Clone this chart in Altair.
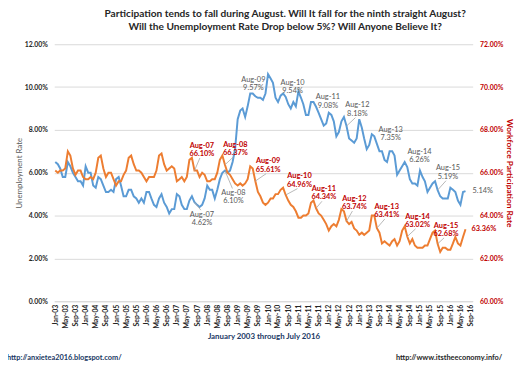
import altair as alt
import pandas as pd

# ---------------- data ----------------
unemp = [
    6.5, 6.4, 6.2, 5.8, 5.8, 6.5, 6.3, 6.0, 5.8, 5.6, 5.6, 5.4,        # 2003
    6.3, 6.0, 6.0, 5.4, 5.3, 5.8, 5.7, 5.4, 5.1, 5.1, 5.2, 5.1,        # 2004
    5.7, 5.8, 5.4, 4.9, 4.9, 5.2, 5.2, 4.9, 4.8, 4.6, 4.8, 4.6,        # 2005
    5.1, 5.1, 4.8, 4.5, 4.4, 4.8, 5.0, 4.6, 4.4, 4.1, 4.3, 4.3,        # 2006
    5.0, 4.9, 4.5, 4.3, 4.3, 4.7, 4.9, 4.62, 4.5, 4.4, 4.5, 4.8,       # 2007
    5.4, 5.2, 5.2, 4.8, 5.2, 5.7, 6.0, 6.10, 6.0, 6.1, 6.5, 7.1,       # 2008
    8.5, 8.9, 9.0, 8.6, 9.1, 9.7, 9.7, 9.57, 9.5, 9.5, 9.4, 9.7,       # 2009
    10.6, 10.4, 10.2, 9.5, 9.3, 9.6, 9.7, 9.54, 9.2, 9.0, 9.3, 9.1,    # 2010
    9.8, 9.5, 9.2, 8.7, 8.7, 9.3, 9.3, 9.08, 8.8, 8.5, 8.2, 8.3,       # 2011
    8.8, 8.7, 8.4, 7.7, 7.9, 8.4, 8.6, 8.18, 7.6, 7.5, 7.4, 7.6,       # 2012
    8.5, 8.1, 7.6, 7.1, 7.3, 7.8, 7.7, 7.35, 7.0, 7.0, 6.6, 6.5,       # 2013
    7.0, 7.0, 6.8, 5.9, 6.1, 6.3, 6.5, 6.26, 5.7, 5.5, 5.5, 5.4,       # 2014
    6.1, 5.8, 5.6, 5.1, 5.3, 5.5, 5.6, 5.19, 4.9, 4.8, 4.8, 4.8,       # 2015
    5.3, 5.2, 5.1, 4.7, 4.5, 5.1, 5.14,                                # 2016
]
lfpr = [
    66.1, 66.0, 66.1, 66.1, 66.2, 67.0, 66.8, 66.2, 65.9, 66.1, 66.1, 65.8,     # 2003
    65.7, 65.7, 65.8, 65.7, 66.0, 66.7, 66.8, 66.2, 65.8, 66.0, 66.0, 65.7,     # 2004
    65.4, 65.6, 65.6, 65.9, 66.1, 66.7, 66.8, 66.4, 66.1, 66.1, 66.0, 65.8,     # 2005
    65.6, 65.8, 65.8, 65.8, 66.1, 66.8, 66.9, 66.4, 66.1, 66.2, 66.3, 66.2,     # 2006
    65.6, 65.7, 65.8, 65.6, 65.8, 66.6, 66.7, 66.10, 66.1, 65.8, 66.0, 65.9,    # 2007
    65.6, 65.6, 65.7, 65.7, 66.0, 66.6, 66.8, 66.37, 66.0, 65.9, 65.7, 65.5,    # 2008
    65.4, 65.5, 65.4, 65.5, 65.7, 66.3, 66.2, 65.61, 65.1, 64.9, 64.6, 64.5,    # 2009
    64.6, 64.8, 64.8, 65.0, 65.0, 65.2, 65.3, 64.96, 64.7, 64.5, 64.4, 64.2,    # 2010
    63.9, 63.9, 64.0, 64.0, 64.1, 64.6, 64.7, 64.34, 64.1, 64.0, 63.8, 63.6,    # 2011
    63.3, 63.5, 63.6, 63.5, 63.8, 64.3, 64.2, 63.74, 63.6, 63.7, 63.4, 63.3,    # 2012
    63.1, 63.2, 63.1, 63.2, 63.3, 64.0, 64.0, 63.41, 63.2, 62.7, 62.8, 62.7,    # 2013
    62.6, 62.8, 62.9, 62.6, 62.8, 63.3, 63.5, 63.02, 62.7, 62.9, 62.6, 62.5,    # 2014
    62.5, 62.5, 62.6, 62.6, 62.9, 63.2, 63.3, 62.68, 62.3, 62.5, 62.5, 62.4,    # 2015
    62.4, 62.7, 63.0, 62.7, 62.6, 63.0, 63.36,                                  # 2016
]
ann_names = ["Aug-07", "Aug-08", "Aug-09", "Aug-10", "Aug-11",
             "Aug-12", "Aug-13", "Aug-14", "Aug-15"]
ann_years = [2007, 2008, 2009, 2010, 2011, 2012, 2013, 2014, 2015]
tick_years = list(range(2003, 2017))
tick_months = [1, 5, 9]

title_lines = ["Participation tends to fall during August. Will It fall for the ninth straight August?",
               "Will the Unemployment Rate Drop below 5%? Will Anyone Believe It?"]
left_title = "Unemployment Rate"
right_title = "Workforce Participation Rate"
x_title = "January 2003 through July 2016"
footer_left = "http://anxietea2016.blogspot.com/"
footer_right = "http://www.itstheeconomy.info/"

# ---------------- layout (pixel offsets of the labels) ----------------
W, H = 425, 261
x_start = pd.Timestamp("2002-12-20")
x_end = pd.Timestamp("2016-09-25")
px_per_day = W / (x_end - x_start).days
px_per_pct = H / 12.0

gray_off = [(7.5, 12.5), (8.6, 22.7), (-2, -17), (7, -14.5), (12, -9.5),
            (11, -21), (14, -14), (12.4, -15.8), (10.5, -22)]
gray_lead = [True, True, False, False, False, True, False, False, True]
red_off = [(7.5, -25.3), (10.6, -20.5), (13, -20), (14, -19), (8, -19.6),
           (8, -22.7), (10, -21.8), (10.4, -20.3), (8.5, -18.5)]
red_lead = [True] * 9
end_dx = 7

BLUE, ORANGE = "#5B9BD5", "#ED7D31"
RED, GRAY = "#C00000", "#595959"
FONT = "Lato"

months = pd.date_range("2003-01-01", periods=len(unemp), freq="MS")
df = pd.DataFrame({"date": months, "unemp": unemp, "lfpr": lfpr})


def ann_frame(col, offs, leads):
    rows = []
    for name, yr, (dx, dy), lead in zip(ann_names, ann_years, offs, leads):
        d = pd.Timestamp(year=yr, month=8, day=1)
        v = float(df.loc[df["date"] == d, col].iloc[0])
        if dy > 0:
            ex_px, ey_px = dx - 1, dy - 4.5
        else:
            ex_px, ey_px = dx - 2, dy + 12.5
        rows.append({
            "date": d, "val": v, "name": name, "vtxt": f"{v:.2f}%",
            "lx": d + pd.Timedelta(days=dx / px_per_day),
            "ly": v - dy / px_per_pct, "lead": lead,
            "ex": d + pd.Timedelta(days=ex_px / px_per_day),
            "ey": v - ey_px / px_per_pct,
        })
    return pd.DataFrame(rows)


gray_df = ann_frame("unemp", gray_off, gray_lead)
red_df = ann_frame("lfpr", red_off, red_lead)

last = df.iloc[-1]
end_u = pd.DataFrame({"lx": [last["date"] + pd.Timedelta(days=end_dx / px_per_day)],
                      "ly": [last["unemp"]], "t": [f"{last['unemp']:.2f}%"]})
end_p = pd.DataFrame({"lx": [last["date"] + pd.Timedelta(days=(end_dx - 1) / px_per_day)],
                      "ly": [last["lfpr"]], "t": [f"{last['lfpr']:.2f}%"]})

xscale = alt.Scale(domain=[alt.DateTime(year=2002, month=12, date=20),
                           alt.DateTime(year=2016, month=9, date=25)], nice=False)
tick_vals = [alt.DateTime(year=y, month=m, date=1) for y in tick_years for m in tick_months]
x_axis = alt.Axis(values=tick_vals, format="%b-%y", labelAngle=270, labelFont=FONT,
                  labelFontSize=7, labelFontWeight="bold", labelColor="#262626",
                  labelPadding=3, ticks=False, grid=False, domainColor="#D9D9D9",
                  title=x_title, titleFont=FONT, titleFontSize=8, titleFontWeight="bold",
                  titleColor="#203864", titlePadding=5, labelOverlap=False, labelBound=False,
                  labelFlush=False)

lscale = alt.Scale(domain=[0, 12], nice=False, zero=False)
rscale = alt.Scale(domain=[60, 72], nice=False, zero=False)
pct_expr = "format(datum.value, '.2f') + '%'"
left_axis = alt.Axis(values=list(range(0, 13, 2)), labelExpr=pct_expr, orient="left",
                     labelFont=FONT, labelFontSize=7, labelFontWeight="bold", labelColor="#262626",
                     labelPadding=7, ticks=False, domain=False, grid=True, gridColor="#D9D9D9",
                     title=left_title, titleFont=FONT, titleFontSize=8, titleFontWeight="normal",
                     titleColor=GRAY, titlePadding=1)
right_axis = alt.Axis(values=list(range(60, 73, 2)), labelExpr=pct_expr, orient="right",
                      labelFont=FONT, labelFontSize=7, labelFontWeight="bold", labelColor=RED,
                      labelPadding=7, ticks=False, domain=False, grid=False,
                      title=right_title, titleFont=FONT, titleFontSize=8.5, titleFontWeight="bold",
                      titleColor=RED, titlePadding=2)


def X(field):
    return alt.X(field, scale=xscale, axis=x_axis)


blue_line = alt.Chart(df).mark_line(color=BLUE, strokeWidth=2).encode(
    x=X("date:T"), y=alt.Y("unemp:Q", scale=lscale, axis=left_axis))
orange_line = alt.Chart(df).mark_line(color=ORANGE, strokeWidth=2).encode(
    x=X("date:T"), y=alt.Y("lfpr:Q", scale=rscale, axis=right_axis))


def ann_layers(adf, yscale, color, weight):
    lead = alt.Chart(adf[adf["lead"]]).mark_rule(color="#A6A6A6", strokeWidth=0.8).encode(
        x=X("date:T"), x2="ex:T",
        y=alt.Y("val:Q", scale=yscale, axis=None), y2="ey:Q")
    t1 = alt.Chart(adf).mark_text(font=FONT, fontSize=7.5, fontWeight=weight, color=color,
                                  align="center", baseline="middle").encode(
        x=X("lx:T"), y=alt.Y("ly:Q", scale=yscale, axis=None), text="name:N")
    t2 = alt.Chart(adf).mark_text(font=FONT, fontSize=7.5, fontWeight=weight, color=color,
                                  align="center", baseline="middle", dy=8.5).encode(
        x=X("lx:T"), y=alt.Y("ly:Q", scale=yscale, axis=None), text="vtxt:N")
    return [lead, t1, t2]


def end_layer(edf, yscale, color, weight):
    return alt.Chart(edf).mark_text(font=FONT, fontSize=7.5, fontWeight=weight, color=color,
                                    align="left", baseline="middle").encode(
        x=X("lx:T"), y=alt.Y("ly:Q", scale=yscale, axis=None), text="t:N")


foot_l = alt.Chart(pd.DataFrame({"t": [footer_left]})).mark_text(
    font=FONT, fontSize=7.5, fontWeight="bold", color="#203864", align="left", baseline="middle"
).encode(x=alt.value(-48), y=alt.value(H + 58), text="t:N")
foot_r = alt.Chart(pd.DataFrame({"t": [footer_right]})).mark_text(
    font=FONT, fontSize=7.5, fontWeight="bold", color="#262626", align="right", baseline="middle"
).encode(x=alt.value(W + 30), y=alt.value(H + 58), text="t:N")

layers = [blue_line, orange_line,
          *ann_layers(gray_df, lscale, GRAY, "normal"), end_layer(end_u, lscale, GRAY, "normal"),
          *ann_layers(red_df, rscale, RED, "bold"), end_layer(end_p, rscale, RED, "bold"),
          foot_l, foot_r]

chart = alt.layer(*layers).resolve_scale(
    y="independent"
).properties(
    width=W, height=H,
    autosize=alt.AutoSizeParams(type="none"),
    padding={"left": 47, "top": 34, "right": 43, "bottom": 63},
    title=alt.TitleParams(text=title_lines, font=FONT, fontSize=10.3, fontWeight="bold",
                          color="#262626", anchor="middle", dx=22, offset=8, lineHeight=13),
    background="white",
).configure_view(stroke=None)

chart.save("out.html", embed_options={"renderer": "svg", "actions": False})
